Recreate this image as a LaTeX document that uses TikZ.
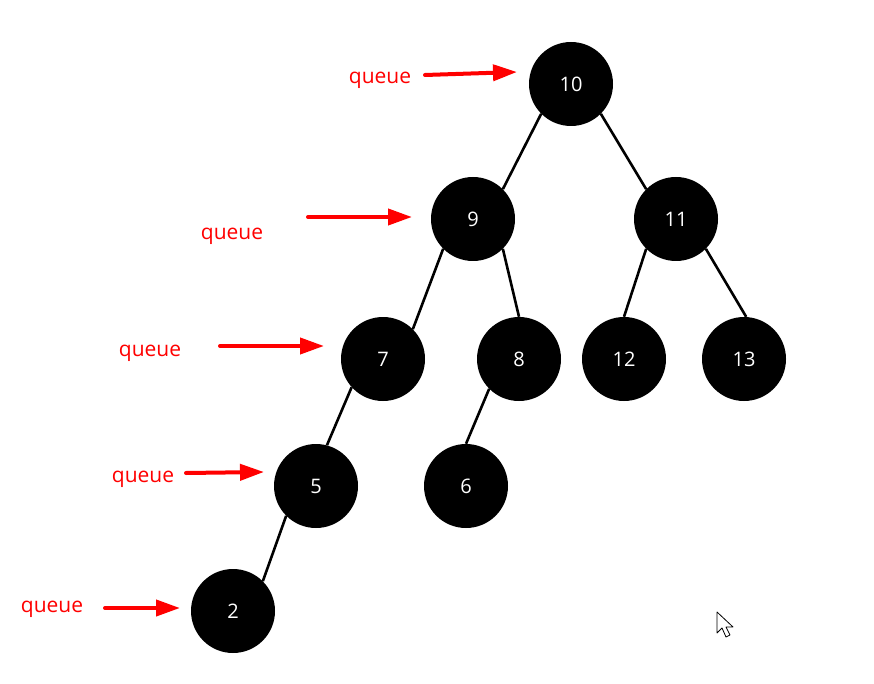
\documentclass[tikz,border=0pt]{standalone}
\usepackage{fontspec}
\setmainfont{Open Sans}
\usetikzlibrary{arrows.meta}

\begin{document}
\begin{tikzpicture}[x=1pt, y=-1pt, >={Triangle[length=24pt,width=16pt]},
  every tree/.style={circle, fill=black, minimum size=84pt, inner sep=0pt,
    text=white, font=\fontsize{20}{21}\selectfont},
  every queue/.style={text=red, font=\fontsize{21}{22}\selectfont},
  pointer/.style={->, red, line width=4pt, line cap=round}]

\useasboundingbox (0,0) rectangle (874,684);

\foreach \n/\x/\y in {10/571/84, 9/473/219, 11/676/219, 7/383/359, 8/519/359,
    12/624/359, 13/744/359, 5/316/486, 6/466/486, 2/233/611}
  \node [every tree] (node-\n) at (\x,\y) {\n};

\foreach \a/\p/\b/\c in {10/225/9/45, 10/-45/11/135, 9/225/7/45, 9/-45/8/90,
    11/225/12/90, 11/-45/13/87, 7/222/5/75, 8/225/6/90, 5/225/2/45}
  \draw [line width=2.6pt] (node-\a.\p) -- (node-\b.\c);

\foreach \i/\x/\y in {1/380/80, 2/232/236, 3/150/353, 4/143/479, 5/52/609}
  \node [every queue] (queue-\i) at (\x,\y) {queue};

\coordinate (from-1) at (425,75);  \coordinate (to-1) at (517,72);
\coordinate (from-2) at (308,217); \coordinate (to-2) at (412,217);
\coordinate (from-3) at (220,346); \coordinate (to-3) at (324,346);
\coordinate (from-4) at (186,473); \coordinate (to-4) at (264,472);
\coordinate (from-5) at (105,608); \coordinate (to-5) at (180,608);

\foreach \i in {1,...,5}
  \draw [pointer] (from-\i) -- (to-\i);

% mouse cursor
\draw [fill=white, line width=0.8pt, line join=round]
  (717,612) -- (717,633) -- (722,628) -- (726,637) -- (730,635) -- (726,627)
  -- (733,627) -- cycle;

\end{tikzpicture}
\end{document}
